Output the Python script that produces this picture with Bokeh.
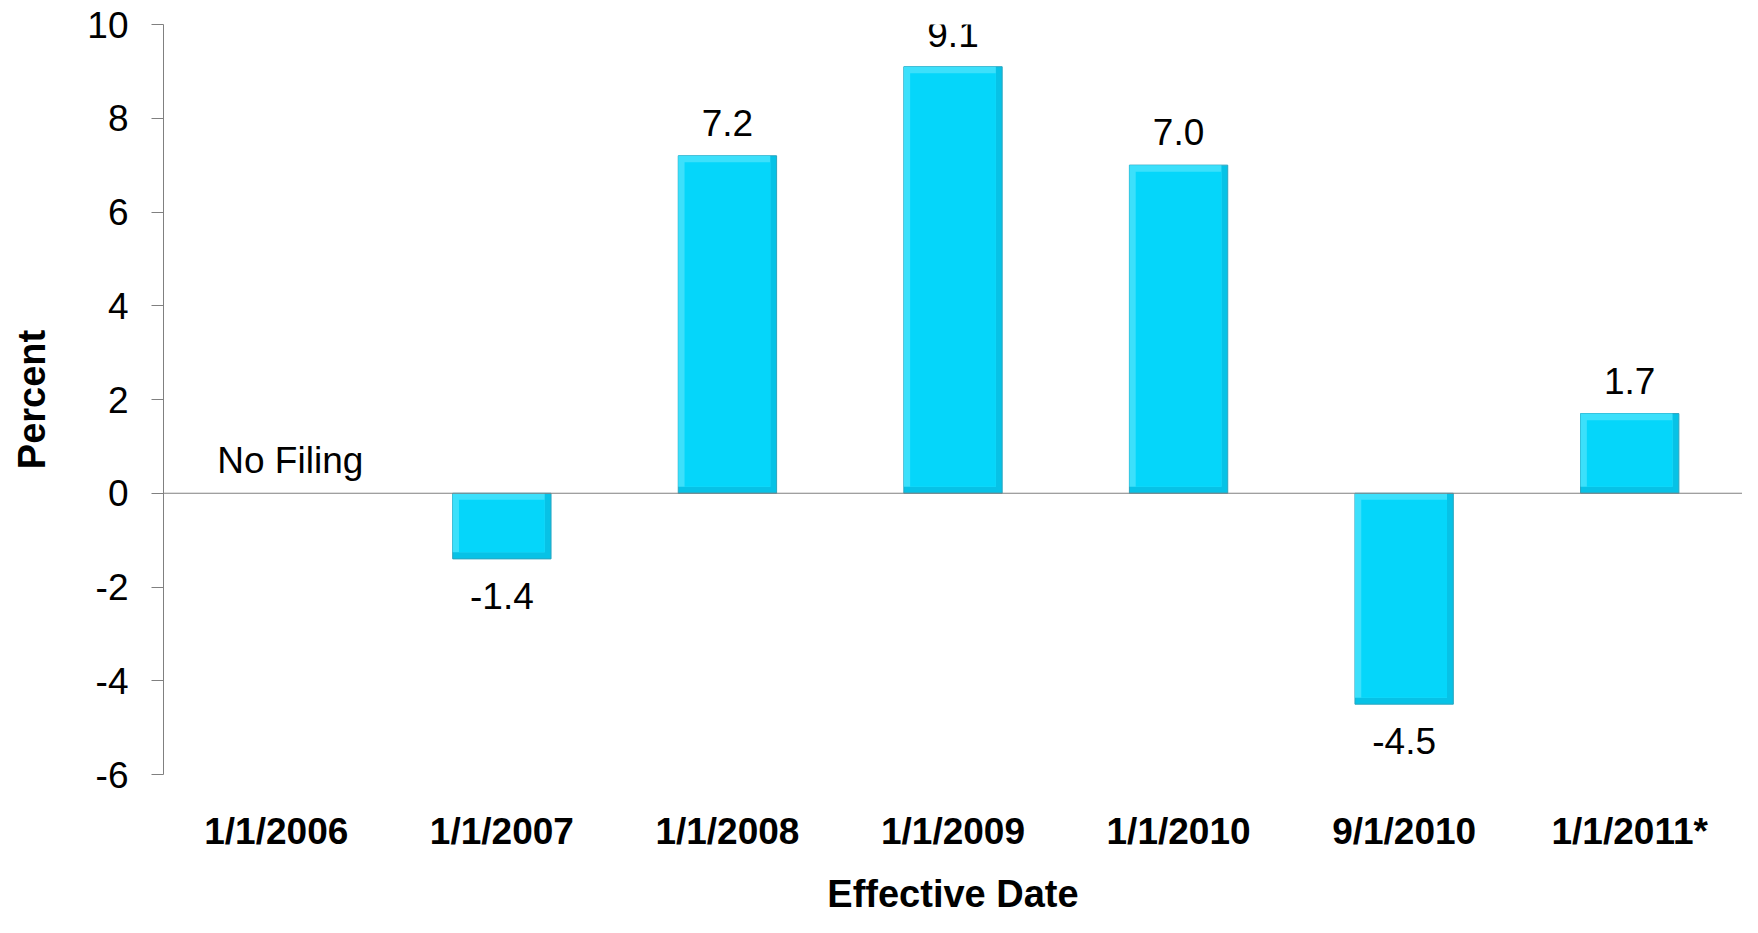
from bokeh.plotting import figure
from bokeh.models import FactorRange, Range1d, FixedTicker, Span, ColumnDataSource
from bokeh.core.properties import value
from bokeh.transform import dodge
from bokeh.embed import file_html
from bokeh.resources import INLINE

# ---- data ----
dates = ["1/1/2006", "1/1/2007", "1/1/2008", "1/1/2009", "1/1/2010", "9/1/2010", "1/1/2011*"]
bar_dates = ["1/1/2007", "1/1/2008", "1/1/2009", "1/1/2010", "9/1/2010", "1/1/2011*"]
percent = [-1.4, 7.2, 9.1, 7.0, -4.5, 1.7]
no_filing_date = "1/1/2006"
no_filing_text = "No Filing"
y_ticks = [-6, -4, -2, 0, 2, 4, 6, 8, 10]

FONT = "Liberation Sans"
MAIN = "#05D6FA"
LIGHT = "#3CE0FB"
DARK = "#07C2E6"
EDGE = "#2AA5BF"
BAR_W = 0.436
INSET_X = 0.028      # bevel width in category units
INSET_Y = 0.14       # bevel height in data units

p = figure(
    x_range=FactorRange(*dates, range_padding=0),
    y_range=Range1d(-6, 10),
    width=1742, height=917,
    output_backend="svg", toolbar_location=None,
    min_border_left=163, min_border_right=0,
    min_border_top=24, min_border_bottom=142,
)
p.outline_line_color = None
p.xgrid.grid_line_color = None
p.ygrid.grid_line_color = None
p.background_fill_color = "white"
p.border_fill_color = "white"

hi = [max(v, 0) for v in percent]
lo = [min(v, 0) for v in percent]
src = ColumnDataSource(dict(
    x=bar_dates, top=percent, hi=hi, lo=lo,
    lo_in=[l + INSET_Y for l in lo], hi_in=[h - INSET_Y for h in hi],
    label=[f"{v:.1f}" for v in percent],
    yoff=[-33 if v >= 0 else 37 for v in percent],
))

# bevelled bars: dark base, light top/left layer, main face
p.vbar(x="x", top="hi", bottom="lo", width=BAR_W, source=src,
       fill_color=DARK, line_color=EDGE, line_width=1)
p.vbar(x=dodge("x", -INSET_X / 2, range=p.x_range), top="hi", bottom="lo_in",
       width=BAR_W - INSET_X, source=src, fill_color=LIGHT, line_color=None)
p.vbar(x="x", top="hi_in", bottom="lo_in", width=BAR_W - 2 * INSET_X, source=src,
       fill_color=MAIN, line_color=None)

# zero line
p.add_layout(Span(location=0, dimension="width", line_color="#808080", line_width=1.2))

# value labels
p.text(x="x", y="top", text="label", y_offset="yoff", source=src,
       text_align="center", text_baseline="middle",
       text_font=value(FONT), text_font_size="37px", text_color="black")

# No Filing label
p.text(x=[no_filing_date], y=[0], text=[no_filing_text], x_offset=14, y_offset=-33,
       text_align="center", text_baseline="middle",
       text_font=value(FONT), text_font_size="37px", text_color="black")

# y axis
ya = p.yaxis[0]
ya.ticker = FixedTicker(ticks=y_ticks)
ya.major_label_overrides = {t: str(t) for t in y_ticks}
ya.axis_line_color = "#808080"
ya.major_tick_line_color = "#808080"
ya.major_tick_out = 12
ya.major_tick_in = 0
ya.minor_tick_line_color = None
ya.major_label_standoff = 23
ya.major_label_text_font = FONT
ya.major_label_text_font_size = "37px"
ya.major_label_text_color = "black"
ya.axis_label = "Percent"
ya.axis_label_text_font = FONT
ya.axis_label_text_font_style = "bold"
ya.axis_label_text_font_size = "38px"
ya.axis_label_text_color = "black"
ya.axis_label_standoff = 31

# x axis
xa = p.xaxis[0]
xa.axis_line_color = None
xa.major_tick_line_color = None
xa.minor_tick_line_color = None
xa.major_label_standoff = 30
xa.major_label_text_font = FONT
xa.major_label_text_font_style = "bold"
xa.major_label_text_font_size = "37px"
xa.major_label_text_color = "black"
xa.axis_label = "Effective Date"
xa.axis_label_text_font = FONT
xa.axis_label_text_font_style = "bold"
xa.axis_label_text_font_size = "38px"
xa.axis_label_text_color = "black"
xa.axis_label_standoff = 18

open("out.html", "w").write(file_html(p, INLINE))
